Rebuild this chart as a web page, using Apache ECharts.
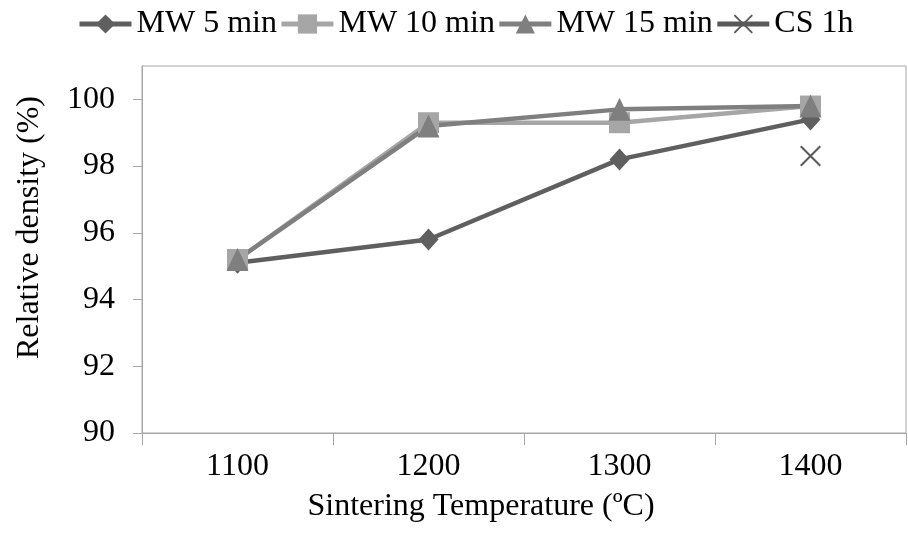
<!DOCTYPE html>
<html>
<head>
<meta charset="utf-8">
<script src="https://cdn.jsdelivr.net/npm/echarts@6/dist/echarts.min.js"></script>
<style>
html,body{margin:0;padding:0;background:#fff;}
#chart{width:908px;height:535px;}
</style>
</head>
<body>
<div id="chart"></div>
<script>
const categories = ['1100', '1200', '1300', '1400'];
const mw5 = [95.1, 95.8, 98.2, 99.4];
const mw10 = [95.2, 99.3, 99.3, 99.8];
const mw15 = [95.2, 99.2, 99.7, 99.8];
const cs1h = [null, null, null, 98.3];
const yTicks = [90, 92, 94, 96, 98, 100];
const seriesNames = ['MW 5 min', 'MW 10 min', 'MW 15 min', 'CS 1h'];

const FONT = '"Liberation Serif", "Times New Roman", serif';
const xPath = 'path://M0,7L7,0L50,43L93,0L100,7L57,50L100,93L93,100L50,57L7,100L0,93L43,50Z';

const chart = echarts.init(document.getElementById('chart'), null, {renderer: 'canvas'});
chart.setOption({
  animation: false,
  backgroundColor: '#fff',
  textStyle: {fontFamily: FONT},
  legend: {
    left: 77, top: 8, padding: 0,
    itemWidth: 52, itemHeight: 24, itemGap: 2,
    lineStyle: {width: 5},
    textStyle: {fontFamily: FONT, fontSize: 32, color: '#000'},
    data: seriesNames
  },
  grid: {
    left: 142, right: 2, top: 66, bottom: 102,
    show: true, borderColor: '#a6a6a6', borderWidth: 1, containLabel: false
  },
  xAxis: {
    type: 'category',
    data: categories,
    boundaryGap: true,
    axisLine: {lineStyle: {color: '#a6a6a6', width: 1}},
    axisTick: {show: true, alignWithLabel: false, length: 12, lineStyle: {color: '#a6a6a6'}},
    axisLabel: {fontFamily: FONT, fontSize: 32, color: '#000', margin: 18},
    splitLine: {show: false},
    name: 'Sintering Temperature (\u00BAC)',
    nameLocation: 'middle',
    nameGap: 58,
    nameTextStyle: {fontFamily: FONT, fontSize: 32, color: '#000', padding: [0, 86, 0, 0]}
  },
  yAxis: {
    type: 'value',
    min: 90, max: 101,
    axisLine: {show: true, lineStyle: {color: '#a6a6a6', width: 1}},
    axisTick: {show: true, length: 9, lineStyle: {color: '#a6a6a6'}, customValues: yTicks},
    axisLabel: {fontFamily: FONT, fontSize: 32, color: '#000', margin: 27, customValues: yTicks},
    splitLine: {show: false},
    name: 'Relative density (%)',
    nameLocation: 'middle',
    nameGap: 96,
    nameTextStyle: {fontFamily: FONT, fontSize: 32, color: '#000', padding: [0, 0, 0, 44]}
  },
  series: [
    {
      name: seriesNames[0], type: 'line', data: mw5,
      symbol: 'diamond', symbolSize: [20, 22],
      lineStyle: {color: '#5f5f5f', width: 4.5},
      itemStyle: {color: '#5f5f5f'}
    },
    {
      name: seriesNames[1], type: 'line', data: mw10,
      symbol: 'rect', symbolSize: 21,
      lineStyle: {color: '#a6a6a6', width: 4.5},
      itemStyle: {color: '#a6a6a6'}
    },
    {
      name: seriesNames[2], type: 'line', data: mw15,
      symbol: 'triangle', symbolSize: [22, 23],
      lineStyle: {color: '#7f7f7f', width: 4.5},
      itemStyle: {color: '#7f7f7f'}
    },
    {
      name: seriesNames[3], type: 'line', data: cs1h,
      symbol: xPath, symbolSize: 21,
      lineStyle: {color: '#595959', width: 4.5},
      itemStyle: {color: '#5a5a5a'}
    }
  ]
});
</script>
</body>
</html>
